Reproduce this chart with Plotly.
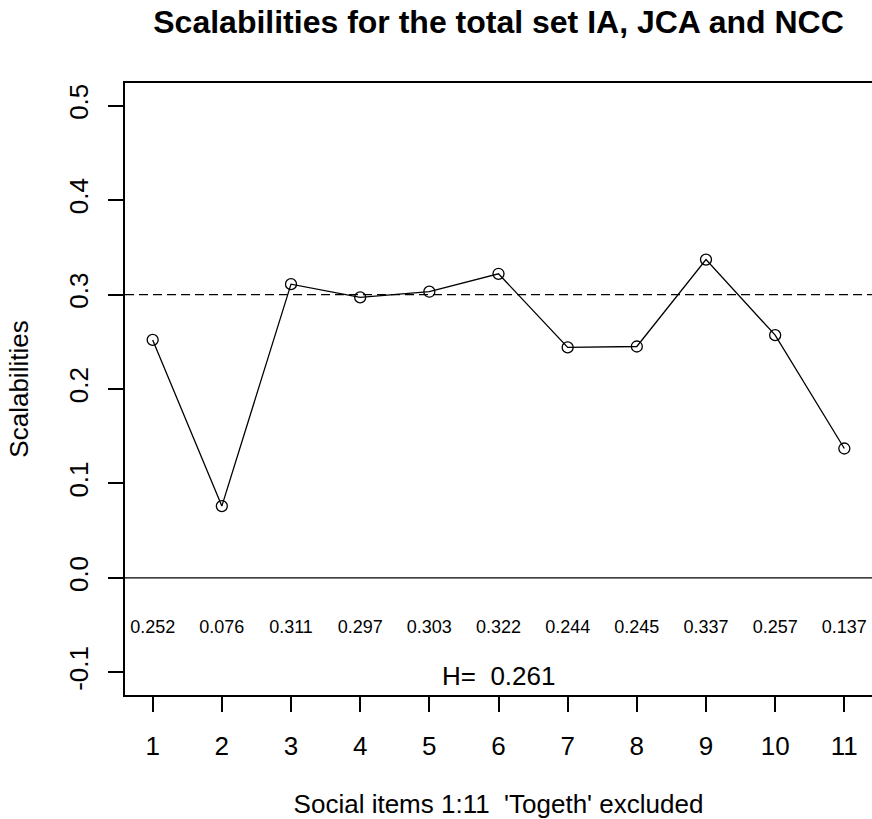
import plotly.graph_objects as go

items = list(range(1, 12))
scal = [0.252, 0.076, 0.311, 0.297, 0.303, 0.322, 0.244, 0.245, 0.337, 0.257, 0.137]
label_txt = ["0.252", "0.076", "0.311", "0.297", "0.303", "0.322", "0.244", "0.245", "0.337", "0.257", "0.137"]
H_total = 0.261
ref_line = 0.3
y_ticks = [-0.1, 0.0, 0.1, 0.2, 0.3, 0.4, 0.5]
x_ticks = items

FONT = "Liberation Sans, Arial, Helvetica, sans-serif"

fig = go.Figure()
fig.add_trace(go.Scatter(
    x=items, y=scal, mode="lines+markers",
    line=dict(color="black", width=1.3),
    marker=dict(symbol="circle-open", size=11, color="black", line=dict(width=1.3)),
    showlegend=False, hoverinfo="skip"))

# number labels
fig.add_trace(go.Scatter(
    x=items, y=[-0.054] * len(items), mode="text", text=label_txt,
    textfont=dict(family=FONT, size=18, color="black"), showlegend=False, hoverinfo="skip"))

fig.add_annotation(x=6, y=-0.104, xref="x", yref="y", text="H=\u00a0 " + f"{H_total:.3f}",
                   showarrow=False, font=dict(family=FONT, size=26, color="black"))

# horizontal reference lines
fig.add_shape(type="line", xref="paper", x0=0, x1=1, yref="y", y0=ref_line, y1=ref_line,
              line=dict(color="black", width=1.3, dash="9px,5px"))
fig.add_shape(type="line", xref="paper", x0=0, x1=1, yref="y", y0=0, y1=0,
              line=dict(color="black", width=1.3))

fig.update_layout(
    width=872, height=819,
    margin=dict(l=125, r=0, t=83, b=124),
    paper_bgcolor="white", plot_bgcolor="white",
    title=dict(text="<b>Scalabilities for the total set IA, JCA and NCC</b>",
               x=0.5, xref="paper", y=1 - 22 / 819, yref="container", yanchor="middle",
               font=dict(family=FONT, size=32, color="black")),
    font=dict(family=FONT, color="black"),
)
fig.update_xaxes(range=[0.6, 11.4], tickvals=x_ticks, ticktext=[str(v) for v in x_ticks],
                 showgrid=False, zeroline=False,
                 showline=True, mirror=True, linecolor="black", linewidth=1.5,
                 ticks="outside", ticklen=15, tickwidth=1.5, tickcolor="black",
                 ticklabelstandoff=12,
                 tickfont=dict(family=FONT, size=26, color="black"),
                 title=dict(text="Social items 1:11\u00a0 'Togeth' excluded",
                            font=dict(family=FONT, size=26, color="black"), standoff=37))
fig.update_yaxes(range=[-0.124, 0.524], tickvals=y_ticks, ticktext=[f"{v:.1f}" for v in y_ticks],
                 showgrid=False, zeroline=False,
                 showline=True, linecolor="black", linewidth=1.5,
                 ticks="outside", ticklen=15, tickwidth=1.5, tickcolor="black",
                 tickangle=-90, ticklabelstandoff=10,
                 tickfont=dict(family=FONT, size=26, color="black"),
                 title=dict(text="Scalabilities",
                            font=dict(family=FONT, size=26, color="black"), standoff=28))

fig.write_html("out.html")
